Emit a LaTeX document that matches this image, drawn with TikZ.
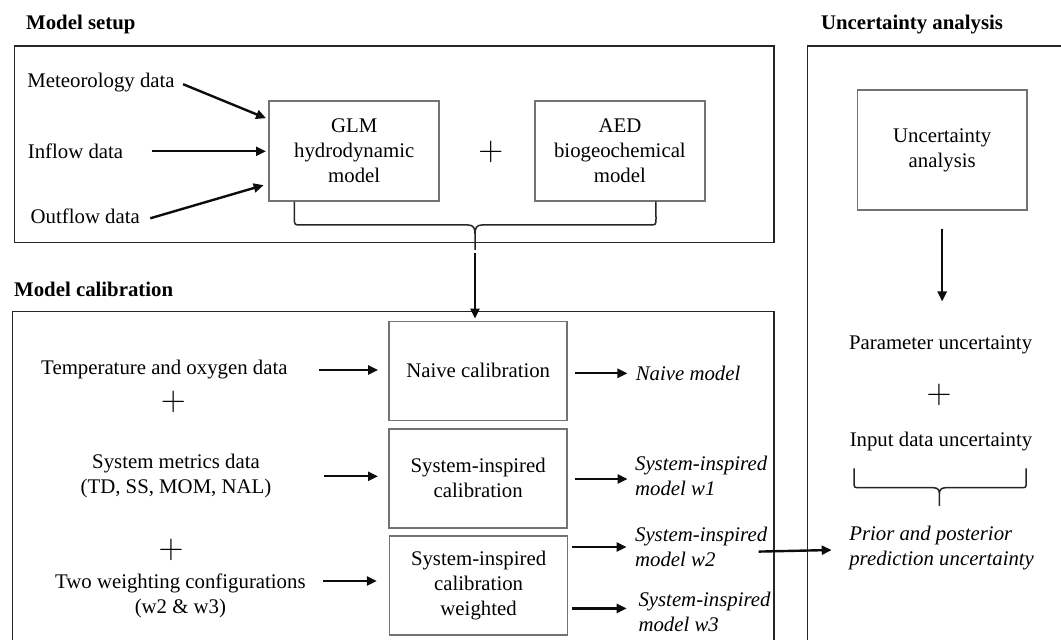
\documentclass[tikz,border=0pt]{standalone}
\usepackage{fontspec}
\setmainfont{Liberation Serif}
\usetikzlibrary{arrows.meta}

\begin{document}
\begin{tikzpicture}[x=0.5pt,y=-0.5pt,
	font=\fontsize{10.4}{12.5}\selectfont,
	frame/.style={draw=black!85,line width=0.75pt},
	modelbox/.style={draw=black!55,line width=0.75pt,align=center,minimum width=85pt,minimum height=50pt,inner sep=0pt},
	calbox/.style={modelbox,minimum width=89pt,minimum height=49.5pt},
	txt/.style={align=center,inner sep=0pt},
	result/.style={txt,align=left,anchor=west,font=\fontsize{10.4}{12.5}\selectfont\itshape},
	title/.style={inner sep=0pt,anchor=base west,font=\fontsize{10.4}{12.5}\selectfont\bfseries},
	plus/.style={inner sep=0pt,font=\fontsize{17.5}{17.5}\selectfont},
	flow/.style={-{Triangle[length=5pt,width=4.5pt]},line width=1.2pt,black!95},
	bracket/.style={draw=black!85,line width=0.75pt}]
	\useasboundingbox (0,0) rectangle (1061,640);

	% frames
	\node[title] (tsetup) at (25.8,30) {Model setup};
	\node[title] (tcal) at (13.8,296.7) {Model calibration};
	\node[title] (tunc) at (820.6,30) {Uncertainty analysis};
	\draw[frame] (14.5,46) rectangle (774,242.7);
	\draw[frame] (12.7,650) |- (774,311.7) -- (774,650);
	\draw[frame] (807.5,650) |- (1070,46);

	% model setup
	\node[txt,anchor=west] (met) at (27,83) {Meteorology data};
	\node[txt,anchor=west] (inflow) at (27.5,151.3) {Inflow data};
	\node[txt,anchor=west] (outflow) at (30.3,216.3) {Outflow data};
	\node[modelbox] (glm) at (354.2,150.8) {GLM\\hydrodynamic\\model};
	\node[plus] (p1) at (490.7,151.7) {$+$};
	\node[modelbox] (aed) at (619.9,150.8) {AED\\biogeochemical\\model};

	\draw[flow] ([xshift=4pt,yshift=-0.6pt]met.east) -- ([xshift=-1.2pt,yshift=-9.1pt]glm.north west);
	\draw[flow] ([xshift=14pt]inflow.east) -- ([xshift=-1.2pt]inflow.east -| glm.west);
	\draw[flow] ([xshift=5pt,yshift=-1pt]outflow.east) -- ([xshift=-2.4pt,yshift=8.2pt]glm.south west);

	% brace joining both models
	\coordinate (tip) at (475,250);
	\draw[bracket] ([xshift=-29.9pt]glm.south) -- (294.4,218) .. controls (294.4,225) .. (301.4,225)
		-- (468,225) .. controls (473.5,225) and (475,228) .. (475,234) -- (tip)
		(475,234) .. controls (475,228) and (476.5,225) .. (482,225)
		-- (649,225) .. controls (656,225) .. (656,218) -- ([xshift=18pt]aed.south);

	% model calibration
	\node[calbox] (naive) at (478.2,370.8) {Naive calibration};
	\node[calbox] (sysbox) at (478.2,478.3) {System-inspired\\calibration};
	\node[calbox] (weighted) at (478.6,585.5) {System-inspired\\calibration\\weighted};
	\draw[flow,shorten >=1pt] ([yshift=-1.5pt]tip) -- (tip |- naive.north);

	\node[txt] (temp) at (164.4,370) {Temperature and oxygen data};
	\node[plus] (p2) at (173.2,401.7) {$+$};
	\node[txt] (sysdata) at (176,476.3) {System metrics data\\(TD, SS, MOM, NAL)};
	\node[plus] (p3) at (171.1,550) {$+$};
	\node[txt] (two) at (180.4,595.8) {Two weighting configurations\\(w2 \& w3)};

	\draw[flow] ([xshift=15.5pt]temp.east) -- ([xshift=-5.2pt]temp.east -| naive.west);
	\draw[flow] ([xshift=25.9pt]sysdata.east) -- ([xshift=-5.2pt]sysdata.east -| sysbox.west);
	\draw[flow] ([xshift=8.5pt,yshift=7.4pt]two.east) -- ([xshift=-6pt,yshift=7.4pt]two.east -| weighted.west);

	\node[result] (nmodel) at (635.4,373.3) {Naive model};
	\node[result] (w1) at (634.7,475.8) {System-inspired\\model w1};
	\node[result] (w2) at (634.7,547) {System-inspired\\model w2};
	\node[result] (w3) at (638.1,612) {System-inspired\\model w3};

	\draw[flow] ([xshift=3.6pt]naive.east |- nmodel.west) -- ([xshift=-4pt]nmodel.west);
	\draw[flow] ([xshift=3.6pt,yshift=-1.6pt]sysbox.east |- w1.west) -- ([xshift=-3.6pt,yshift=-1.6pt]w1.west);
	\draw[flow] ([xshift=1.9pt]weighted.east |- w2.west) -- ([xshift=-4pt]w2.west);
	\draw[flow] ([xshift=1.9pt,yshift=1.8pt]weighted.east |- w3.west) -- ([xshift=-5.7pt,yshift=1.8pt]w3.west);

	% uncertainty analysis
	\node[modelbox,minimum width=84.7pt,minimum height=60pt] (ua) at (942.2,150) {Uncertainty\\analysis};
	\node[txt] (param) at (940.6,345) {Parameter uncertainty};
	\node[plus] (p4) at (939,395) {$+$};
	\node[txt] (input) at (941,442) {Input data uncertainty};
	\node[result] (prior) at (848.9,548) {Prior and posterior\\prediction uncertainty};

	\draw[flow] ([yshift=-9pt]ua.south) -- ([yshift=17pt]ua.south |- param.north);
	\draw[bracket] (854,468.3) -- (854,482) .. controls (854,487.7) .. (860,487.7)
		-- (933,487.7) .. controls (938,487.7) and (939.4,490) .. (939.4,494) -- (939.4,506)
		(939.4,494) .. controls (939.4,490) and (941,487.7) .. (946,487.7)
		-- (1020,487.7) .. controls (1026.2,487.7) .. (1026.2,482) -- (1026.2,468.3);
	\draw[flow] ([xshift=-4.5pt,yshift=-2.3pt]w2.east) -- ([xshift=-8.6pt,yshift=-1pt]prior.west);

\end{tikzpicture}
\end{document}
